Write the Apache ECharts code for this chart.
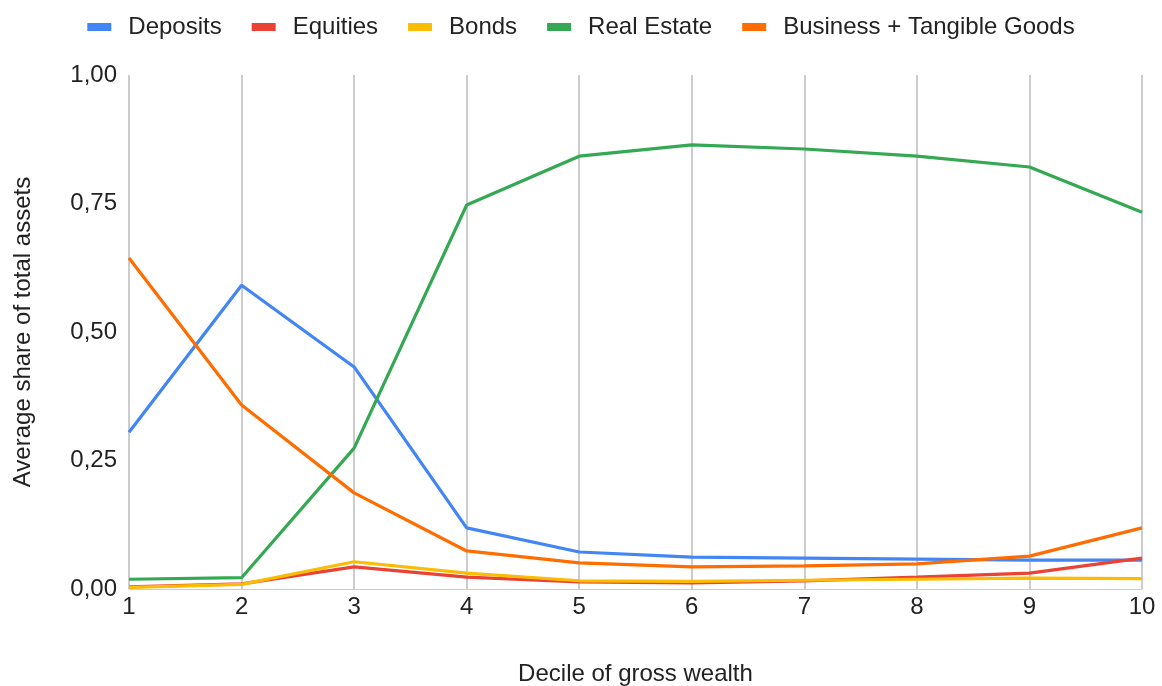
<!DOCTYPE html>
<html><head><meta charset="utf-8">
<script src="https://cdn.jsdelivr.net/npm/echarts@6/dist/echarts.min.js"></script>
<style>html,body{margin:0;padding:0;background:#fff}#c{width:1162px;height:686px}</style>
</head><body><div id="c"></div>
<script>
const categories = ['1','2','3','4','5','6','7','8','9','10'];
const deposits = [0.305,0.591,0.432,0.119,0.072,0.062,0.060,0.058,0.056,0.056];
const equities = [0.004,0.010,0.043,0.023,0.014,0.012,0.016,0.023,0.031,0.060];
const bonds = [0.003,0.009,0.053,0.031,0.016,0.015,0.017,0.019,0.021,0.020];
const realEstate = [0.019,0.022,0.274,0.747,0.842,0.864,0.856,0.842,0.821,0.733];
const business = [0.644,0.358,0.187,0.074,0.051,0.043,0.045,0.049,0.064,0.119];
const seriesNames = ['Deposits','Equities','Bonds','Real Estate','Business + Tangible Goods'];
const colors = ['#4285F4','#EA4335','#FBBC04','#34A853','#FF6D01'];
const dataSets = [deposits, equities, bonds, realEstate, business];
const font = '"Liberation Sans", Arial, sans-serif';
const chart = echarts.init(document.getElementById('c'));
chart.setOption({
  animation:false,
  color: colors,
  textStyle:{fontFamily:font},
  legend:{top:10,left:'center',itemWidth:24,itemHeight:8,itemGap:30,icon:'rect',
    textStyle:{fontSize:24,color:'#222',fontFamily:font,padding:[0,0,0,12]}},
  grid:{left:129,right:20,top:75,bottom:97,outerBoundsMode:'none',containLabel:false},
  xAxis:{type:'category',data:categories,boundaryGap:false,
    name:'Decile of gross wealth',nameLocation:'middle',nameGap:73,
    nameTextStyle:{fontSize:24,color:'#222',fontFamily:font},
    axisLine:{show:true,lineStyle:{color:'#ccc',width:1}},
    axisTick:{show:false},
    axisLabel:{fontSize:24,color:'#222',margin:6,fontFamily:font},
    splitLine:{show:true,lineStyle:{color:'#ccc',width:2}}},
  yAxis:{type:'value',min:0,max:1,interval:0.25,
    name:'Average share of total assets',nameLocation:'middle',nameGap:94,
    nameTextStyle:{fontSize:24,color:'#222',fontFamily:font},
    axisLine:{show:false},axisTick:{show:false},
    axisLabel:{fontSize:24,color:'#222',margin:12,fontFamily:font,formatter:v=>v.toFixed(2).replace('.',',')},
    splitLine:{show:false}},
  series: dataSets.map((d,i)=>({name:seriesNames[i],type:'line',data:d,
    symbol:'none',lineStyle:{width:3.2,color:colors[i]},itemStyle:{color:colors[i]}}))
});
</script></body></html>
